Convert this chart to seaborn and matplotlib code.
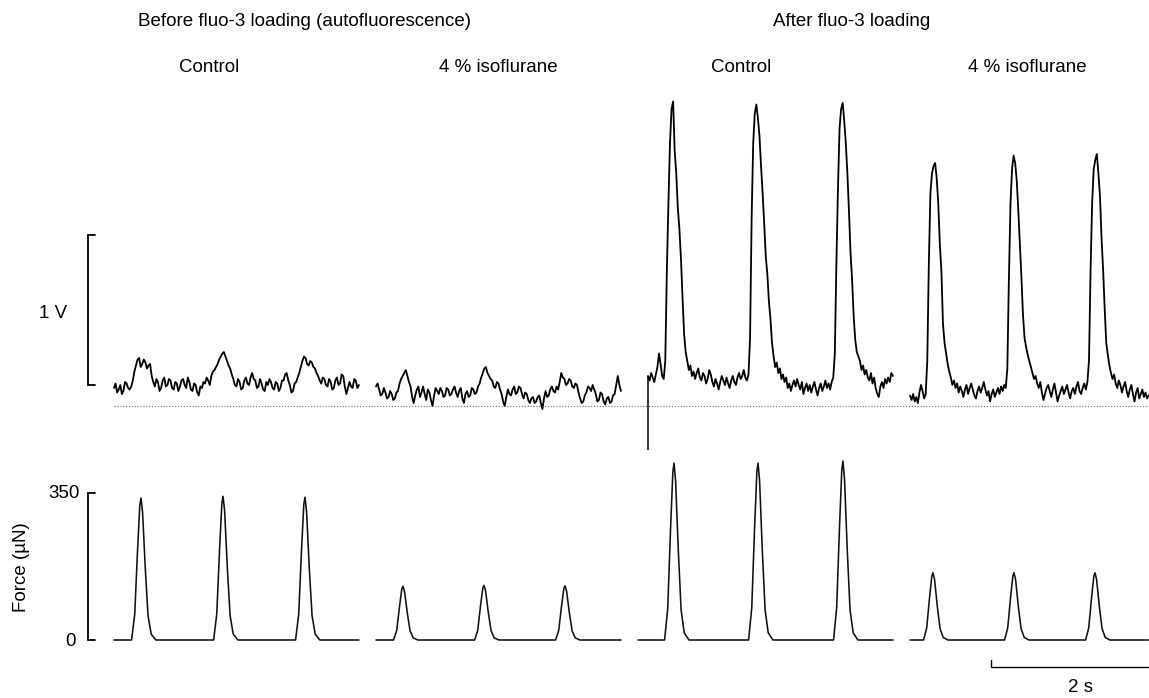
import matplotlib
matplotlib.use("Agg")
import matplotlib.pyplot as plt
import numpy as np
import pandas as pd
import seaborn as sns

sns.set_theme(style="white")
plt.rcParams["font.family"] = ["Liberation Sans", "DejaVu Sans"]

# ---------------------------------------------------------------------------
# Data
# ---------------------------------------------------------------------------
SAMPLE_DT = 0.02  # s between fluorescence samples

# Fluorescence signal (V above background), one list per recording
fluo_before_control = [
    0.12, 0.15, 0.09, 0.11, 0.14, 0.08, 0.10, 0.16, 0.15, 0.12,
    0.11, 0.13, 0.17, 0.23, 0.27, 0.31, 0.32, 0.26, 0.28, 0.31,
    0.29, 0.25, 0.27, 0.28, 0.20, 0.16, 0.13, 0.18, 0.16, 0.10,
    0.12, 0.17, 0.19, 0.13, 0.14, 0.18, 0.17, 0.12, 0.11, 0.16,
    0.15, 0.10, 0.13, 0.17, 0.18, 0.14, 0.12, 0.19, 0.16, 0.11,
    0.10, 0.15, 0.14, 0.09, 0.07, 0.13, 0.12, 0.16, 0.15, 0.19,
    0.17, 0.14, 0.20, 0.23, 0.24, 0.26, 0.28, 0.31, 0.33, 0.35,
    0.36, 0.33, 0.30, 0.27, 0.25, 0.21, 0.18, 0.14, 0.13, 0.18,
    0.16, 0.11, 0.12, 0.17, 0.19, 0.15, 0.14, 0.19, 0.22, 0.18,
    0.17, 0.12, 0.13, 0.18, 0.15, 0.11, 0.10, 0.16, 0.14, 0.18,
    0.16, 0.12, 0.11, 0.16, 0.15, 0.10, 0.12, 0.17, 0.17, 0.21,
    0.22, 0.17, 0.14, 0.09, 0.10, 0.15, 0.16, 0.19, 0.22, 0.26,
    0.30, 0.33, 0.32, 0.28, 0.27, 0.30, 0.29, 0.26, 0.25, 0.22,
    0.20, 0.17, 0.15, 0.19, 0.18, 0.14, 0.13, 0.18, 0.16, 0.11,
    0.12, 0.17, 0.19, 0.14, 0.15, 0.21, 0.20, 0.13, 0.08, 0.12,
    0.16, 0.13, 0.12, 0.18, 0.17, 0.12, 0.14,
]
fluo_before_iso = [
    0.13, 0.15, 0.11, 0.07, 0.08, 0.12, 0.09, 0.05, 0.06, 0.10,
    0.08, 0.04, 0.05, 0.09, 0.10, 0.15, 0.18, 0.20, 0.22, 0.24,
    0.20, 0.16, 0.13, 0.06, 0.02, 0.07, 0.11, 0.13, 0.06, 0.09,
    0.13, 0.08, 0.04, 0.11, 0.09, 0.04, 0.00, 0.07, 0.12, 0.10,
    0.08, 0.12, 0.10, 0.06, 0.07, 0.12, 0.11, 0.07, 0.08, 0.11,
    0.13, 0.09, 0.06, 0.10, 0.12, 0.05, 0.02, 0.08, 0.10, 0.06,
    0.07, 0.12, 0.11, 0.08, 0.09, 0.13, 0.15, 0.19, 0.22, 0.25,
    0.26, 0.22, 0.20, 0.18, 0.17, 0.13, 0.12, 0.16, 0.15, 0.11,
    0.08, 0.03, 0.00, 0.06, 0.11, 0.08, 0.07, 0.11, 0.13, 0.08,
    0.09, 0.13, 0.12, 0.08, 0.05, 0.09, 0.08, 0.04, 0.02, 0.05,
    0.06, 0.02, 0.03, 0.06, 0.07, 0.02, -0.02, 0.05, 0.10, 0.06,
    0.07, 0.11, 0.13, 0.10, 0.09, 0.13, 0.11, 0.16, 0.22, 0.19,
    0.18, 0.14, 0.15, 0.18, 0.17, 0.13, 0.12, 0.15, 0.14, 0.09,
    0.05, 0.02, 0.03, 0.07, 0.09, 0.13, 0.12, 0.10, 0.14, 0.11,
    0.08, 0.03, 0.04, 0.09, 0.08, 0.03, 0.01, 0.05, 0.06, 0.02,
    0.03, 0.07, 0.08, 0.14, 0.20, 0.14, 0.10,
]
fluo_after_control = [
    0.20, 0.17, 0.22, 0.19, 0.16, 0.21, 0.26, 0.35, 0.28, 0.20, 0.18,
    0.30, 0.90, 1.35, 1.75, 1.98, 2.03, 1.70, 1.55, 1.32, 1.18, 0.98, 0.72, 0.48, 0.36, 0.30,
    0.24, 0.27, 0.20, 0.23, 0.18, 0.22, 0.25, 0.19, 0.17, 0.22,
    0.20, 0.15, 0.18, 0.24, 0.21, 0.16, 0.13, 0.18, 0.15, 0.11,
    0.16, 0.20, 0.17, 0.14, 0.19, 0.15, 0.12, 0.17, 0.20, 0.16,
    0.14, 0.19, 0.22, 0.18, 0.20, 0.24, 0.19, 0.17, 0.21,
    0.45, 1.25, 1.75, 1.95, 2.01, 1.92, 1.80, 1.60, 1.42, 1.22, 1.00, 0.88, 0.70, 0.58,
    0.42, 0.33, 0.26,
    0.29, 0.22, 0.25, 0.18, 0.21, 0.16, 0.19, 0.12, 0.15, 0.10,
    0.14, 0.17, 0.13, 0.18, 0.14, 0.11, 0.16, 0.08, 0.12, 0.15,
    0.10, 0.14, 0.09, 0.13, 0.16, 0.11, 0.07, 0.12, 0.15, 0.10,
    0.13, 0.17, 0.12, 0.15, 0.11, 0.16, 0.19,
    0.35, 0.95, 1.45, 1.85, 1.98, 2.02, 1.90, 1.75, 1.55, 1.30, 1.02, 0.84, 0.60, 0.44,
    0.36, 0.33,
    0.30, 0.24, 0.27, 0.21, 0.24, 0.19, 0.17, 0.22, 0.15, 0.19,
    0.12, 0.08, 0.06, 0.13, 0.16, 0.12, 0.18, 0.15, 0.19, 0.16, 0.22, 0.20,
]
fluo_after_iso = [
    0.07, 0.04, 0.08, 0.03, 0.06, 0.02, 0.09, 0.14, 0.10, 0.05, 0.08,
    0.30, 0.95, 1.42, 1.55, 1.60, 1.62, 1.52, 1.35, 1.08, 0.90, 0.55, 0.42, 0.35, 0.28,
    0.23, 0.19,
    0.14, 0.17, 0.12, 0.15, 0.09, 0.13, 0.10, 0.06, 0.11, 0.14,
    0.08, 0.12, 0.15, 0.11, 0.07, 0.05, 0.10, 0.13, 0.09, 0.12,
    0.16, 0.11, 0.07, 0.10, 0.03, 0.08, 0.11, 0.06, 0.09, 0.12,
    0.08, 0.13, 0.10, 0.14, 0.12,
    0.25, 0.85, 1.35, 1.58, 1.67, 1.62, 1.50, 1.30, 1.08, 0.85, 0.60, 0.45, 0.39, 0.34,
    0.30, 0.26, 0.22,
    0.18, 0.20, 0.15, 0.12, 0.16, 0.09, 0.04, 0.08, 0.12, 0.14,
    0.10, 0.06, 0.11, 0.15, 0.09, 0.03, 0.07, 0.10, 0.13, 0.08,
    0.11, 0.14, 0.09, 0.05, 0.10, 0.12, 0.08, 0.13, 0.16, 0.10,
    0.08, 0.12, 0.15, 0.11, 0.16,
    0.30, 0.90, 1.35, 1.58, 1.64, 1.68, 1.55, 1.40, 1.12, 0.91, 0.65, 0.42, 0.34, 0.27,
    0.22,
    0.18, 0.21, 0.15, 0.12, 0.17, 0.14, 0.09, 0.13, 0.16, 0.10,
    0.06, 0.11, 0.14, 0.08, 0.03, 0.09, 0.12, 0.05, 0.08, 0.11,
    0.06, 0.09, 0.05, 0.07,
]
stim_artifact_v = -0.29  # stimulus artefact at the start of the loaded control run

# Twitch force (µN): time (s) / value pairs for each recording
force_before_control_t = [
    0.0, 0.224, 0.264, 0.299, 0.329, 0.344, 0.364, 0.399, 0.434, 0.474, 0.534,
    1.269, 1.309, 1.344, 1.374, 1.389, 1.409, 1.444, 1.479, 1.519, 1.579,
    2.313, 2.353, 2.388, 2.418, 2.433, 2.453, 2.488, 2.523, 2.563, 2.623, 3.12,
]
force_before_control = [
    0, 0, 61, 210, 321, 338, 304, 169, 57, 14, 0,
    0, 62, 212, 325, 342, 308, 171, 58, 14, 0,
    0, 61, 211, 323, 340, 306, 170, 58, 14, 0, 0,
]
force_before_iso_t = [
    0.0, 0.224, 0.264, 0.299, 0.329, 0.344, 0.364, 0.399, 0.434, 0.474, 0.534,
    1.256, 1.296, 1.331, 1.361, 1.376, 1.396, 1.431, 1.466, 1.506, 1.566,
    2.288, 2.328, 2.363, 2.393, 2.408, 2.428, 2.463, 2.498, 2.538, 2.598, 3.12,
]
force_before_iso = [
    0, 0, 23, 79, 122, 128, 115, 64, 22, 5, 0,
    0, 23, 81, 124, 130, 117, 65, 22, 5, 0,
    0, 23, 80, 123, 129, 116, 65, 22, 5, 0, 0,
]
force_after_control_t = [
    0.0, 0.339, 0.379, 0.414, 0.444, 0.459, 0.479, 0.514, 0.549, 0.589, 0.649,
    1.409, 1.449, 1.484, 1.514, 1.529, 1.549, 1.584, 1.619, 1.659, 1.719,
    2.491, 2.531, 2.566, 2.596, 2.611, 2.631, 2.666, 2.701, 2.741, 2.801, 3.25,
]
force_after_control = [
    0, 0, 76, 261, 400, 421, 379, 211, 72, 17, 0,
    0, 76, 261, 400, 421, 379, 211, 72, 17, 0,
    0, 77, 264, 405, 426, 383, 213, 72, 17, 0, 0,
]
force_after_iso_t = [
    0.0, 0.173, 0.213, 0.248, 0.278, 0.293, 0.313, 0.348, 0.383, 0.423, 0.483,
    1.205, 1.245, 1.280, 1.310, 1.325, 1.345, 1.380, 1.415, 1.455, 1.515,
    2.237, 2.277, 2.312, 2.342, 2.357, 2.377, 2.412, 2.447, 2.487, 2.547, 3.04,
]
force_after_iso = [
    0, 0, 29, 99, 152, 160, 144, 80, 27, 6, 0,
    0, 29, 99, 152, 160, 144, 80, 27, 6, 0,
    0, 29, 99, 152, 160, 144, 80, 27, 6, 0, 0,
]

group_titles = ["Before fluo-3 loading (autofluorescence)", "After fluo-3 loading"]
panel_titles = ["Control", "4 % isoflurane", "Control", "4 % isoflurane"]

# ---------------------------------------------------------------------------
# Layout (figure pixels)
# ---------------------------------------------------------------------------
W, H = 1149, 698
PX_PER_S = 78.5
PX_PER_V = 150.0
PX_PER_UN = 147.0 / 350.0
FLUO_ZERO_Y = 406      # pixel row of background fluorescence
FORCE_ZERO_Y = 640     # pixel row of zero force
fluo_start_px = [114, 376, 648, 910]
force_start_px = [114, 376, 638, 910]

fig = plt.figure(figsize=(W / 100, H / 100), dpi=100)
ax_f = fig.add_axes([0, 0, 1, 1])
ax_m = fig.add_axes([0, 0, 1, 1])
for ax in (ax_f, ax_m):
    ax.set_xlim(0, W / PX_PER_S)
    ax.axis("off")
    ax.patch.set_alpha(0)
ax_f.set_ylim((FLUO_ZERO_Y - H) / PX_PER_V, FLUO_ZERO_Y / PX_PER_V)
ax_m.set_ylim((FORCE_ZERO_Y - H) / PX_PER_UN, FORCE_ZERO_Y / PX_PER_UN)

# Fluorescence traces
fluo_lists = [fluo_before_control, fluo_before_iso, fluo_after_control, fluo_after_iso]
rows = []
for k, (vals, x0) in enumerate(zip(fluo_lists, fluo_start_px)):
    t0 = x0 / PX_PER_S
    for i, v in enumerate(vals):
        rows.append({"time": t0 + i * SAMPLE_DT, "value": v, "run": k})
fluo_df = pd.DataFrame(rows)
sns.lineplot(data=fluo_df, x="time", y="value", units="run", estimator=None,
             sort=False, color="black", linewidth=1.3, ax=ax_f, legend=False)

# stimulus artefact
t_art = fluo_start_px[2] / PX_PER_S
ax_f.vlines(t_art, stim_artifact_v, fluo_after_control[0], color="black", linewidth=1.1)

# background line
ax_f.hlines(0, fluo_start_px[0] / PX_PER_S, W / PX_PER_S, color="#666666",
            linewidth=0.8, linestyles=(0, (1, 1.6)))

# Force traces
force_t = [force_before_control_t, force_before_iso_t, force_after_control_t, force_after_iso_t]
force_v = [force_before_control, force_before_iso, force_after_control, force_after_iso]
rows = []
for k, (ts, vs, x0) in enumerate(zip(force_t, force_v, force_start_px)):
    t0 = x0 / PX_PER_S
    for t, v in zip(ts, vs):
        rows.append({"time": t0 + t, "value": v, "run": k})
force_df = pd.DataFrame(rows)
sns.lineplot(data=force_df, x="time", y="value", units="run", estimator=None,
             sort=False, color="#111111", linewidth=1.15, ax=ax_m, legend=False)

# Scale bars
bar_x = 88 / PX_PER_S
tick = 7 / PX_PER_S
v_lo = (FLUO_ZERO_Y - 385) / PX_PER_V
ax_f.plot([bar_x + tick, bar_x, bar_x, bar_x + tick], [v_lo, v_lo, v_lo + 1.0, v_lo + 1.0],
          color="black", linewidth=1.3, solid_joinstyle="miter")
ax_m.plot([bar_x + tick, bar_x, bar_x, bar_x + tick], [0, 0, 350, 350],
          color="black", linewidth=1.3, solid_joinstyle="miter")
tb_x = 991 / PX_PER_S
tb_y = -(667 - FORCE_ZERO_Y) / PX_PER_UN
tb_tick = -(660 - FORCE_ZERO_Y) / PX_PER_UN
ax_m.plot([tb_x, tb_x, tb_x + 2.0], [tb_tick, tb_y, tb_y], color="black", linewidth=1.0)


def ptext(x, y, s, **kw):
    fig.text(x / W, 1 - y / H, s, color="black", **kw)


FS = 13.5
ptext(305, 22, group_titles[0], fontsize=FS, ha="center", va="center")
ptext(852, 22, group_titles[1], fontsize=FS, ha="center", va="center")
for x, s in zip([209, 498, 741, 1027], panel_titles):
    ptext(x, 68, s, fontsize=FS, ha="center", va="center")
ptext(53, 313, "1 V", fontsize=FS, ha="center", va="center")
ptext(80, 493, "350", fontsize=FS, ha="right", va="center")
ptext(76, 642, "0", fontsize=FS, ha="right", va="center")
ptext(22, 567, "Force (µN)", fontsize=FS, ha="center", va="center", rotation=90)
ptext(1080, 688, "2 s", fontsize=FS, ha="center", va="center")

fig.savefig("out.png", dpi=100)
